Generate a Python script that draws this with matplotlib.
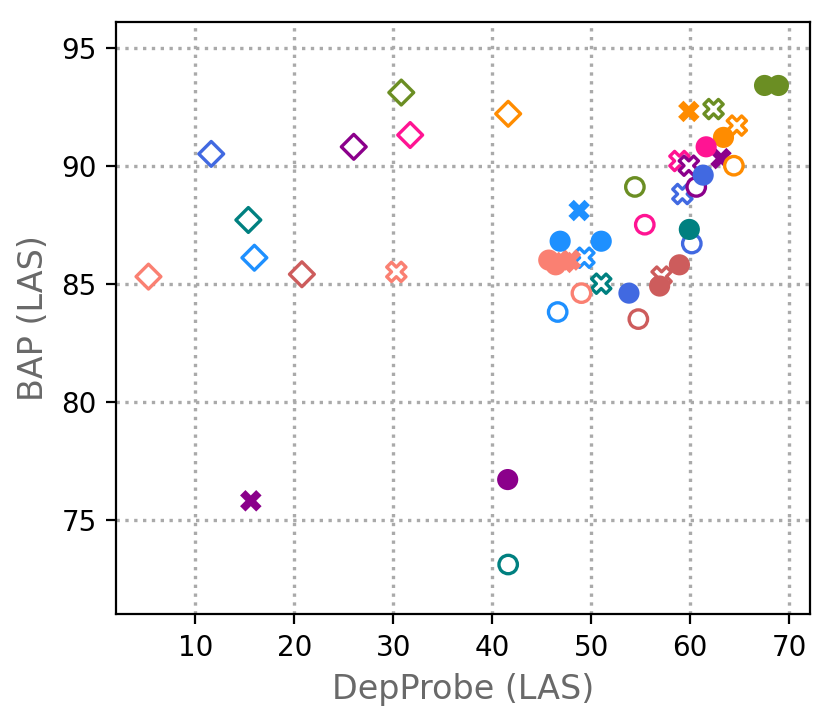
import numpy as np
import matplotlib
matplotlib.use("Agg")
import matplotlib.pyplot as plt

# one colour per group (DepProbe LAS, BAP LAS)
colors = ["olivedrab", "darkorange", "deeppink", "royalblue", "dodgerblue",
          "teal", "indianred", "salmon", "darkmagenta"]

# open diamonds
dia_x = [30.8, 41.6, 31.7, 11.6, 15.96, 15.35, 20.76, 5.26, 26.0]
dia_y = [93.1, 92.2, 91.3, 90.5, 86.1, 87.7, 85.4, 85.3, 90.8]

# open X markers
ox_x = [62.35, 64.7, 58.9, 59.2, 49.3, 51.0, 57.1, 30.3, 59.85]
ox_y = [92.4, 91.7, 90.2, 88.8, 86.1, 85.0, 85.3, 85.5, 90.0]

# open circles
oc_x = [54.4, 64.4, 55.4, 60.15, 46.6, 41.6, 54.75, 49.0, 60.6]
oc_y = [89.1, 90.0, 87.5, 86.7, 83.8, 73.1, 83.5, 84.6, 89.1]

# filled X markers (colour index, x, y)
fx_c = [1, 4, 7, 7, 8, 8]
fx_x = [59.85, 48.77, 47.25, 47.9, 15.6, 63.1]
fx_y = [92.3, 88.1, 85.9, 86.0, 75.8, 90.3]

# filled circles (colour index, x, y)
fc_c = [0, 0, 1, 2, 3, 3, 4, 4, 5, 6, 6, 7, 7, 8]
fc_x = [67.5, 68.9, 63.35, 61.6, 61.3, 53.8, 46.85, 51.0, 59.9, 56.9, 58.9, 45.7, 46.4, 41.55]
fc_y = [93.4, 93.4, 91.2, 90.8, 89.6, 84.6, 86.8, 86.8, 87.3, 84.9, 85.8, 86.0, 85.8, 76.7]

fig = plt.figure(figsize=(4.15, 3.625), dpi=200)
ax = fig.add_axes([0.14, 0.153, 0.836, 0.817])

ax.scatter(dia_x, dia_y, marker="D", s=40, facecolors="white",
           edgecolors=colors, linewidths=1.2, zorder=3)
ax.scatter(ox_x, ox_y, marker="X", s=48, facecolors="white",
           edgecolors=colors, linewidths=1.2, zorder=3)
ax.scatter(fx_x, fx_y, marker="X", s=60, c=[colors[i] for i in fx_c],
           linewidths=0, zorder=3)
ax.scatter(oc_x, oc_y, marker="o", s=44, facecolors="white",
           edgecolors=colors, linewidths=1.2, zorder=4)
ax.scatter(fc_x, fc_y, marker="o", s=58, c=[colors[i] for i in fc_c],
           linewidths=0, zorder=4)

ax.set_xlim(2.0, 72.1)
ax.set_ylim(71.0, 96.1)
ax.set_xticks([10, 20, 30, 40, 50, 60, 70])
ax.set_yticks([75, 80, 85, 90, 95])
ax.grid(True, linestyle=":", color="#aaaaaa", linewidth=1.2)
ax.set_axisbelow(True)
ax.tick_params(labelsize=10)
ax.set_xlabel("DepProbe (LAS)", fontsize=12, color="dimgray")
ax.set_ylabel("BAP (LAS)", fontsize=12, color="dimgray")

fig.savefig("out.png", dpi=200)
